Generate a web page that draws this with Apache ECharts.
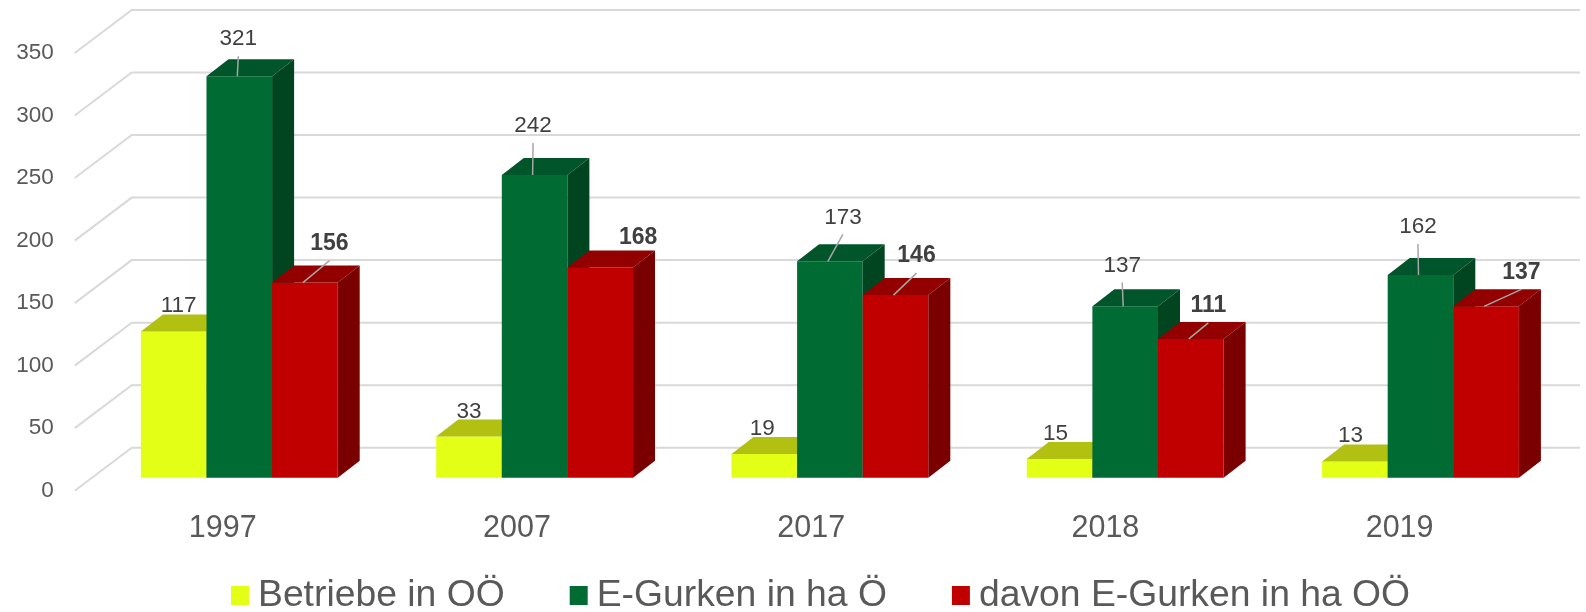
<!DOCTYPE html>
<html>
<head>
<meta charset="utf-8">
<script src="https://cdn.jsdelivr.net/npm/echarts@6/dist/echarts.min.js"></script>
<style>
  html, body { margin: 0; padding: 0; background: #fff; }
  #chart { width: 1586px; height: 612px; }
</style>
</head>
<body>
<div id="chart"></div>
<script>
const years = ["1997", "2007", "2017", "2018", "2019"];
const betriebe = [117, 33, 19, 15, 13];
const gurkenOe = [321, 242, 173, 137, 162];
const gurkenOoe = [156, 168, 146, 111, 137];
const yTicks = [0, 50, 100, 150, 200, 250, 300, 350];

// label placement (pixels from front-top centre of each bar)
const yellowLabelOffset = [[5, -26], [0, -25], [-2, -25], [-4, -25], [-4.5, -25.5]];
const greenLabelOffset = [[-1, -37], [-1.5, -49], [13, -44], [-3, -41], [-2.6, -48]];
const redLabelOffset = [[24.5, -39], [38, -29.6], [21, -39], [17.5, -33], [35.3, -34]];
const greenLeader = [true, true, true, true, true];
const redLeader = [true, false, true, true, true];

const FONT = "'Liberation Sans', Arial, sans-serif";
const DEPTH_X = 22, DEPTH_Y = 17;   // bar depth
const FLOOR_X = 57, FLOOR_Y = 43;   // floor depth (gridlines)
const BAR_LIFT = 13;                // bar front plane above label plane

const chart = echarts.init(document.getElementById("chart"));

function barSeries(name, values, k, colors, offsets, leader, bold) {
  return {
    name: name,
    type: "custom",
    itemStyle: { color: colors[0] },
    data: values.map((v, i) => [i, v]),
    renderItem: (params, api) => {
      const i = api.value(0);
      const v = api.value(1);
      const band = api.size([1, 0])[0];
      const barW = band * 0.223;
      const p = api.coord([i, v]);
      const p0 = api.coord([i, 0]);
      const cx = p[0] + 16.5 + 1.1 * i + (k - 1) * barW;
      const x0 = cx - barW / 2, x1 = cx + barW / 2;
      const yT = p[1] - BAR_LIFT, yB = p0[1] - BAR_LIFT;
      const off = offsets[i];
      const lx = cx + off[0], ly = yT + off[1];
      const children = [
        { type: "rect", shape: { x: x0, y: yT, width: barW, height: yB - yT }, style: { fill: colors[0] } },
        { type: "polygon", shape: { points: [[x0, yT], [x1, yT], [x1 + DEPTH_X, yT - DEPTH_Y], [x0 + DEPTH_X, yT - DEPTH_Y]] }, style: { fill: colors[1] } },
        { type: "polygon", shape: { points: [[x1, yT], [x1 + DEPTH_X, yT - DEPTH_Y], [x1 + DEPTH_X, yB - DEPTH_Y], [x1, yB]] }, style: { fill: colors[2] } },
      ];
      if (leader && leader[i]) {
        children.push({ type: "line", shape: { x1: cx - 2, y1: yT, x2: lx, y2: ly + 17 }, style: { stroke: "#a6a6a6", lineWidth: 1.5 } });
      }
      children.push({
        type: "text",
        style: {
          text: String(v), x: lx, y: ly, align: "center", verticalAlign: "middle",
          fontSize: bold ? 23 : 22.5, fontWeight: bold ? "bold" : "normal", fontFamily: FONT, fill: "#404040",
        },
      });
      return { type: "group", children: children };
    },
  };
}

const option = {
  animation: false,
  grid: { left: 75.7, right: 39.3, top: 53, bottom: 121.3 },
  legend: {
    data: ["Betriebe in OÖ", "E-Gurken in ha Ö", "davon E-Gurken in ha OÖ"],
    left: 231, top: 577, padding: 0,
    icon: "rect", itemWidth: 18, itemHeight: 19, itemGap: 65,
    textStyle: { fontSize: 37.3, color: "#595959", fontFamily: FONT, padding: [0, 0, 0, 4] },
  },
  xAxis: {
    type: "category",
    data: years,
    axisLine: { show: false },
    axisTick: { show: false },
    axisLabel: { fontSize: 30.5, color: "#595959", fontFamily: FONT, margin: 22 },
  },
  yAxis: {
    type: "value",
    min: 0, max: 350, interval: 50,
    splitLine: { show: false },
    axisLine: { show: false },
    axisTick: { show: false },
    axisLabel: { fontSize: 22.5, color: "#595959", fontFamily: FONT, margin: 22 },
  },
  series: [
    {
      name: "grid",
      type: "custom",
      silent: true,
      data: yTicks.map((v) => [0, v]),
      renderItem: (params, api) => {
        const p = api.coord([0, api.value(1)]);
        const left = params.coordSys.x - 1;
        return {
          type: "polyline",
          shape: { points: [[left, p[1]], [left + FLOOR_X, p[1] - FLOOR_Y], [1580, p[1] - FLOOR_Y]] },
          style: { stroke: "#d9d9d9", lineWidth: 2, fill: null },
        };
      },
    },
    barSeries("Betriebe in OÖ", betriebe, 0, ["#e4ff16", "#b2c012", "#9aa80e"], yellowLabelOffset, null, false),
    barSeries("E-Gurken in ha Ö", gurkenOe, 1, ["#006b32", "#00552a", "#00451f"], greenLabelOffset, greenLeader, false),
    barSeries("davon E-Gurken in ha OÖ", gurkenOoe, 2, ["#c00000", "#920000", "#7a0000"], redLabelOffset, redLeader, true),
  ],
};

chart.setOption(option);
</script>
</body>
</html>
